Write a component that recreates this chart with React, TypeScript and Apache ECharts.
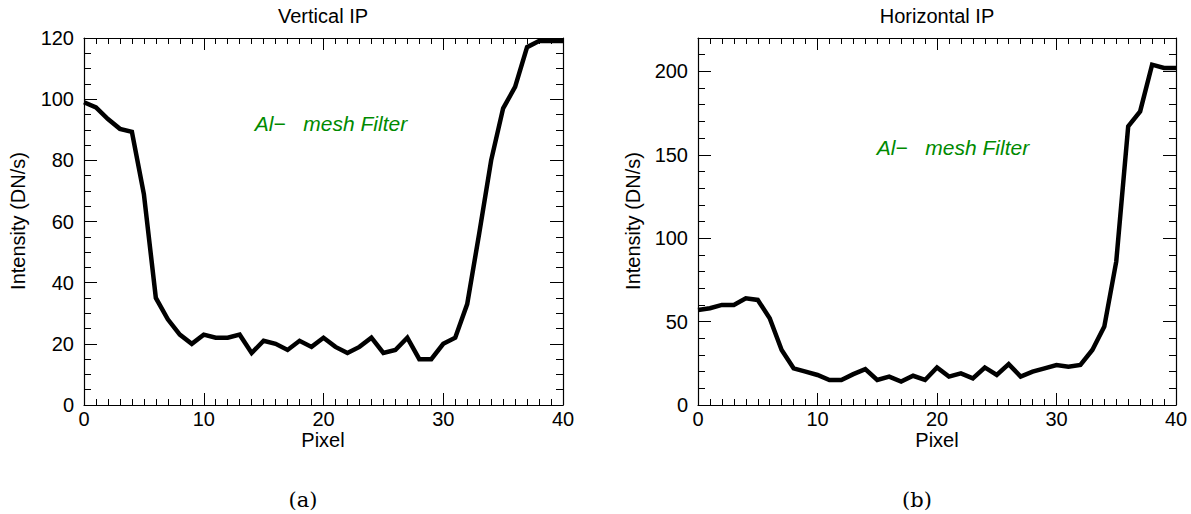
import React, { useEffect, useRef } from "react";
import * as echarts from "echarts";

const pixels: number[] = Array.from({ length: 41 }, (_, i) => i);

const verticalIP: number[] = [
  99, 97.3, 93.5, 90.3, 89.3, 69, 35, 28, 23, 20,
  23, 22, 22, 23, 17, 21, 20, 18, 21, 19,
  22, 19, 17, 19, 22, 17, 18, 22, 15, 15,
  20, 22, 33, 56, 80, 97, 104, 117, 119, 119, 119,
];

const horizontalIP: number[] = [
  57, 58, 60, 60, 64, 63, 52, 33, 22, 20,
  18, 15, 15, 18.5, 21.5, 15, 17, 14, 17.5, 15,
  22.5, 17, 19, 16, 22.5, 18, 24.5, 17, 20, 22,
  24, 23, 24, 33, 47, 86, 167, 176, 204, 202, 202,
];

const panelTitles: string[] = ["Vertical IP", "Horizontal IP"];
const panelCaptions: string[] = ["(a)", "(b)"];
const annotation = "Al\u2212   mesh Filter";
const xName = "Pixel";
const yName = "Intensity (DN/s)";

const FONT = "'Liberation Sans', Arial, Helvetica, sans-serif";

export default function App() {
  const ref = useRef<HTMLDivElement>(null);

  useEffect(() => {
    if (!ref.current) return;
    const chart = echarts.init(ref.current, undefined, { renderer: "svg" });

    const grids = [
      { left: 84, right: 1191 - 563, top: 38, bottom: 514 - 405 },
      { left: 698, right: 1191 - 1176, top: 38, bottom: 514 - 405 },
    ];

    const yCfg = [
      { max: 120, interval: 20, minor: 4, showMax: true },
      { max: 220, interval: 50, minor: 5, showMax: false },
    ];

    const xAxes: any[] = [];
    const yAxes: any[] = [];
    grids.forEach((_, g) => {
      const common = {
        gridIndex: g,
        type: "value",
        min: 0,
        max: 40,
        interval: 10,
        axisLine: { show: true, onZero: false, lineStyle: { color: "#000", width: 1.2 } },
        axisTick: { show: true, inside: true, length: 12, lineStyle: { color: "#000", width: 1 } },
        minorTick: { show: true, splitNumber: 10, length: 6, lineStyle: { color: "#000", width: 1 } },
        splitLine: { show: false },
        minorSplitLine: { show: false },
      };
      xAxes.push({
        ...common,
        position: "bottom",
        axisLabel: { show: true, color: "#000", fontSize: 20, fontFamily: FONT, margin: 4 },
      });
      xAxes.push({
        ...common,
        position: "top",
        axisLabel: { show: false },
      });
      const yc = yCfg[g];
      const ycommon = {
        gridIndex: g,
        type: "value",
        min: 0,
        max: yc.max,
        interval: yc.interval,
        axisLine: { show: true, onZero: false, lineStyle: { color: "#000", width: 1.2 } },
        axisTick: { show: true, inside: true, length: 13, lineStyle: { color: "#000", width: 1 } },
        minorTick: { show: true, splitNumber: yc.minor, length: 7, lineStyle: { color: "#000", width: 1 } },
        splitLine: { show: false },
        minorSplitLine: { show: false },
      };
      yAxes.push({
        ...ycommon,
        position: "left",
        axisLabel: {
          show: true,
          color: "#000",
          fontSize: 20,
          fontFamily: FONT,
          margin: 10,
          showMaxLabel: yc.showMax,
        },
      });
      yAxes.push({
        ...ycommon,
        position: "right",
        axisLabel: { show: false },
      });
    });

    const seriesData = [verticalIP, horizontalIP];

    const series = seriesData.map((vals, g) => ({
      type: "line",
      xAxisIndex: g * 2,
      yAxisIndex: g * 2,
      data: pixels.map((p, i) => [p, vals[i]]),
      showSymbol: false,
      symbol: "none",
      lineStyle: { color: "#000", width: 4.5, join: "miter" },
      z: 3,
    }));

    const centersX = [323, 937];
    const graphic: any[] = [];
    centersX.forEach((cx, g) => {
      graphic.push({
        type: "text",
        x: cx,
        y: 16,
        style: { text: panelTitles[g], fill: "#000", font: `20px ${FONT}`, textAlign: "center", textVerticalAlign: "middle" },
      });
      graphic.push({
        type: "text",
        x: cx,
        y: 440,
        style: { text: xName, fill: "#000", font: `20px ${FONT}`, textAlign: "center", textVerticalAlign: "middle" },
      });
      graphic.push({
        type: "text",
        x: g === 0 ? 303 : 917,
        y: 500,
        style: { text: panelCaptions[g], fill: "#000", font: `21px 'DejaVu Serif', 'Liberation Serif', serif`, textAlign: "center", textVerticalAlign: "middle" },
      });
    });
    graphic.push({
      type: "text",
      x: 18,
      y: 221,
      rotation: Math.PI / 2,
      style: { text: yName, fill: "#000", font: `20px ${FONT}`, textAlign: "center", textVerticalAlign: "middle" },
    });
    graphic.push({
      type: "text",
      x: 633,
      y: 221,
      rotation: Math.PI / 2,
      style: { text: yName, fill: "#000", font: `20px ${FONT}`, textAlign: "center", textVerticalAlign: "middle" },
    });
    graphic.push({
      type: "text",
      x: 331,
      y: 123,
      style: { text: annotation, fill: "#008a00", font: `italic 21px ${FONT}`, textAlign: "center", textVerticalAlign: "middle" },
    });
    graphic.push({
      type: "text",
      x: 953,
      y: 147,
      style: { text: annotation, fill: "#008a00", font: `italic 21px ${FONT}`, textAlign: "center", textVerticalAlign: "middle" },
    });

    chart.setOption({
      animation: false,
      backgroundColor: "#fff",
      grid: grids,
      xAxis: xAxes,
      yAxis: yAxes,
      series,
      graphic,
    });

    return () => chart.dispose();
  }, []);

  return <div ref={ref} style={{ width: 1191, height: 514, position: "absolute", left: 0, top: 0 }} />;
}
